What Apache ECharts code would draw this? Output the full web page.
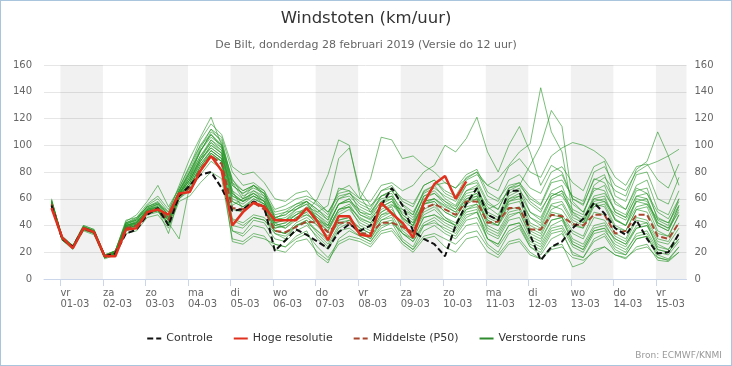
<!DOCTYPE html>
<html><head><meta charset="utf-8">
<script src="https://cdn.jsdelivr.net/npm/echarts@6/dist/echarts.min.js"></script>
<style>
html,body{margin:0;padding:0;background:#fff}
#c{position:absolute;left:0;top:0;width:732px;height:366px}
#b{position:absolute;left:0;top:0;width:732px;height:366px;box-sizing:border-box;border:1px solid #a9c5dd;pointer-events:none}
</style>
</head><body><div id="c"></div><div id="b"></div>
<script>
// ---- data ----
const titleText = 'Windstoten (km/uur)';
const subtitleText = 'De Bilt, donderdag 28 februari 2019 (Versie do 12 uur)';
const sourceText = 'Bron: ECMWF/KNMI';
const dayNames = ['vr','za','zo','ma','di','wo','do','vr','za','zo','ma','di','wo','do','vr'];
const dayDates = ['01-03','02-03','03-03','04-03','05-03','06-03','07-03','08-03','09-03','10-03','11-03','12-03','13-03','14-03','15-03'];
const yTicks = [0,20,40,60,80,100,120,140,160];
const firstHour = -5;   // 28-02 19:00 relative to 01-03 00:00
const stepHours = 6;

const controle = [55,30,24,38,35,17,19,34,37,48,53,40,62,70,78,80,68,51,
  52,58,54,21,29,37,33,28,23,35,41,36,40,55,68,55,36,30,26,17,40,56,68,
  48,44,66,66,33,14,24,28,38,45,57,49,38,33,44,30,19,20,34];
const hogeResolutie = [53,31,23,38,35,17,17,37,38,50,52,48,64,65,81,92,81,40,50,57,
  54,44,44,44,53,43,29,47,47,33,32,57,49,42,31,57,71,77,60,73];
const middelste = [56,31,24,37,35,17,20,38,40,50,52,44,62,68,82,92,86,53,52,57,
  52,36,35,39,43,42,35,42,42,34,34,42,42,39,35,53,56,52,48,58,
  58,42,43,53,53,37,37,48,47,41,40,48,48,34,36,48,48,32,30,42];

const run01 = [60,30,23,38,35,16,19,42,44,55,60,50,70,90,106,121,100,75,62,66,60,45,50,52,58,50,44,68,66,50,48,58,60,48,42,62,64,58,52,66,68,48,44,60,62,42,38,55,52,40,38,56,54,38,36,52,50,34,32,48];
const run02 = [56,30,24,39,36,18,21,38,40,50,52,46,62,72,88,98,92,58,54,60,56,40,38,44,48,44,38,52,54,45,42,50,55,52,48,65,70,72,68,75,80,70,75,85,95,101,143,110,95,50,42,58,60,45,40,60,58,42,38,50];
const run03 = [57,31,25,37,35,17,20,40,42,52,56,48,66,78,92,104,96,62,58,64,58,42,44,48,52,46,40,56,58,48,45,54,58,46,40,58,60,55,50,62,64,52,56,66,70,85,100,126,114,58,50,68,66,50,46,62,60,40,36,55];
const run04 = [55,29,23,38,34,16,19,36,38,48,50,42,60,70,84,96,90,55,60,70,66,52,55,60,62,58,50,64,66,60,58,70,72,66,70,80,85,100,95,105,121,95,80,100,114,95,70,85,80,60,55,75,72,58,52,68,64,50,45,60];
const run05 = [59,32,25,40,37,18,21,44,46,56,62,52,68,85,100,108,98,70,64,70,64,48,50,56,60,55,48,66,70,60,75,106,104,90,92,85,80,72,68,78,82,65,60,70,72,58,52,64,62,50,46,60,58,48,44,58,56,45,42,55];
const run06 = [57,31,24,38,36,17,20,40,43,52,55,46,64,76,90,102,94,64,58,62,56,38,40,46,50,60,78,104,100,62,50,60,62,45,40,58,60,52,48,60,62,42,40,52,54,38,34,50,48,36,32,50,48,34,30,46,44,30,28,42];
const run07 = [58,31,24,39,35,17,20,41,45,54,57,48,66,80,95,110,104,72,60,64,58,40,42,48,54,50,55,90,98,66,55,62,64,48,42,56,58,50,46,58,60,40,36,50,52,36,32,48,46,34,30,46,44,32,28,44,42,28,26,38];
const run08 = [56,30,23,37,35,17,20,38,40,50,52,44,60,68,80,92,88,52,50,58,54,34,32,40,44,36,30,42,44,38,34,48,50,38,32,52,56,46,42,56,60,44,40,58,62,46,42,60,64,52,48,70,76,66,62,82,88,110,92,70];
const run09 = [57,31,24,38,36,17,20,39,41,51,53,45,63,74,88,100,94,60,56,62,58,42,44,50,52,48,42,56,58,52,48,62,66,55,48,66,70,60,55,70,72,56,52,68,70,60,55,72,74,62,58,80,84,70,66,80,85,88,92,97];
const run10 = [55,29,22,36,33,15,18,34,36,46,48,38,58,62,72,80,75,30,28,34,32,22,20,28,30,20,14,26,30,28,24,34,36,26,20,30,32,24,20,30,32,20,16,26,28,18,15,22,24,16,14,20,24,18,16,22,24,16,14,20];
const run11 = [58,30,24,38,35,16,19,40,42,52,54,40,64,76,96,108,100,66,52,60,56,36,34,42,46,40,32,48,52,42,38,50,54,36,30,46,48,44,40,54,56,36,32,46,50,32,28,44,46,30,26,40,42,28,24,38,40,24,22,34];
const run12 = [56,31,24,39,36,17,20,41,44,53,56,46,65,80,98,112,106,80,70,72,66,46,44,52,56,44,36,52,54,46,42,54,58,50,44,62,66,58,54,66,70,50,46,62,66,56,50,66,70,48,44,62,64,52,48,66,68,44,40,60];
const run13 = [57,30,23,37,34,16,19,38,40,49,51,42,62,70,82,94,88,36,34,44,42,30,28,36,40,32,24,38,42,36,30,44,46,30,24,40,42,38,34,46,50,30,26,40,42,26,22,36,38,24,20,34,36,26,22,32,34,20,18,28];
const run14 = [58,32,25,40,37,18,21,43,48,58,70,54,68,84,104,116,108,84,78,80,72,60,58,64,66,56,50,62,64,58,54,66,68,60,56,70,74,66,62,76,80,62,58,74,78,68,64,80,84,72,66,84,88,62,58,78,80,60,56,76];
const run15 = [57,31,24,38,35,17,20,40,42,52,54,44,63,74,90,98,92,58,54,58,54,38,40,46,48,42,36,50,54,40,36,48,52,40,34,50,54,46,40,52,56,44,40,56,58,40,36,52,56,42,38,54,56,40,36,52,54,36,32,48];
const run16 = [56,30,23,37,35,16,19,39,41,50,52,34,62,72,86,96,90,44,40,46,44,34,30,40,42,36,28,44,46,34,30,42,44,34,28,42,46,40,36,48,50,34,30,44,46,30,26,40,44,28,24,38,40,30,26,38,40,26,22,34];
const run17 = [59,31,25,39,36,17,21,42,46,54,58,48,66,82,100,112,102,74,66,70,62,44,46,52,56,48,40,56,60,50,46,58,62,52,46,60,64,56,52,64,66,54,48,64,68,50,44,62,66,56,50,66,70,50,46,62,64,46,42,58];
const run18 = [57,30,24,38,35,17,20,40,43,51,54,46,64,74,90,104,98,66,60,64,60,42,38,46,50,40,30,44,46,38,34,46,50,40,34,48,52,44,40,52,54,38,34,48,50,34,30,44,46,26,22,36,38,30,26,40,42,22,20,30];
const run19 = [56,31,24,38,36,17,20,38,40,50,52,44,62,70,84,94,88,40,38,46,44,36,34,40,44,34,26,40,44,36,32,44,48,34,30,46,48,42,38,50,52,30,24,36,40,24,18,30,34,20,16,28,32,20,18,30,32,18,15,24];
const run20 = [58,31,24,39,36,17,20,41,44,53,56,48,64,78,96,106,100,70,64,68,64,46,48,54,58,52,44,60,62,54,50,62,66,56,50,64,68,62,58,70,74,58,52,68,72,62,56,74,78,60,56,74,78,56,52,70,74,52,48,66];
const run21 = [56,30,23,37,34,16,19,37,39,49,51,40,60,66,78,88,82,28,26,32,30,26,24,30,34,24,16,28,32,30,26,36,38,28,22,32,34,30,26,34,36,24,18,28,30,20,15,24,26,9,12,22,24,18,15,24,26,14,13,20];
const run22 = [57,31,24,38,35,17,20,40,42,51,54,44,63,74,88,100,94,62,58,62,58,40,42,48,52,46,38,52,56,44,40,52,56,46,40,56,58,50,46,58,62,48,44,58,60,46,40,56,58,44,40,56,58,44,40,54,56,40,36,52];
const run23 = [58,31,24,39,36,17,21,42,45,54,57,50,66,80,96,108,100,72,66,70,64,50,52,56,58,44,40,56,60,48,44,56,60,44,38,56,60,54,50,60,64,46,42,60,64,50,46,62,66,46,42,60,62,44,40,58,60,42,38,54];
const run24 = [55,29,23,37,34,16,19,37,40,49,51,42,30,70,84,94,88,45,42,48,46,36,34,40,42,30,22,36,38,32,28,38,42,34,28,40,44,36,32,44,46,30,26,40,42,28,24,38,40,26,22,36,38,24,20,34,36,22,20,30];
const run25 = [57,31,24,38,35,17,20,39,42,51,53,45,64,76,92,102,96,64,58,66,62,46,48,54,58,52,46,60,64,56,52,66,70,58,54,70,74,64,60,74,78,70,66,84,90,80,76,92,98,102,100,96,90,76,70,84,86,74,68,86];
const run26 = [56,30,24,37,35,17,20,39,41,50,52,42,62,72,86,96,90,36,32,40,38,26,24,32,36,18,12,30,36,32,28,40,42,28,22,36,40,34,30,40,42,26,20,34,38,24,20,34,36,18,16,30,34,22,18,30,32,16,14,24];
const runs = [run01,run02,run03,run04,run05,run06,run07,run08,run09,run10,run11,run12,run13,
  run14,run15,run16,run17,run18,run19,run20,run21,run22,run23,run24,run25,run26];

// ---- chart ----
const FONT = 'DejaVu Sans';
const xMin = -9.25, xMax = 353.25;
const toPairs = arr => arr.map((v, i) => [firstHour + i * stepHours, v]);
const dayStarts = dayNames.map((_, i) => i * 24);
const bands = dayStarts.filter((_, i) => i % 2 === 0)
  .map(h => [{ xAxis: h }, { xAxis: Math.min(h + 24, xMax) }]);

const GREEN = '#2e9a2e';
const series = [];
series.push({
  name: 'bands', type: 'line', data: [], silent: true, z: 0,
  markArea: { silent: true, itemStyle: { color: 'rgba(0,0,0,0.055)' }, data: bands }
});
runs.forEach(r => series.push({
  name: 'Verstoorde runs', type: 'line', data: toPairs(r), symbol: 'none', silent: true, z: 2,
  lineStyle: { width: 1, color: 'rgba(40,150,40,0.62)' }, itemStyle: { color: GREEN }
}));
series.push({
  name: 'Middelste (P50)', type: 'line', data: toPairs(middelste), symbol: 'none', silent: true, z: 3,
  lineStyle: { width: 2, type: [6, 3], color: '#a8472e' }, itemStyle: { color: '#c0392b' }
});
series.push({
  name: 'Controle', type: 'line', data: toPairs(controle), symbol: 'none', silent: true, z: 4,
  lineStyle: { width: 2, type: [6, 3], color: '#111' }, itemStyle: { color: '#111' }
});
series.push({
  name: 'Hoge resolutie', type: 'line', data: toPairs(hogeResolutie), symbol: 'none', silent: true, z: 5,
  lineStyle: { width: 2.5, color: '#e0301e' }, itemStyle: { color: '#e0301e' }
});

const chart = echarts.init(document.getElementById('c'), null, { renderer: 'canvas' });
chart.setOption({
  animation: false,
  backgroundColor: '#fff',
  textStyle: { fontFamily: FONT },
  title: [
    { text: titleText, left: 'center', top: 4, textStyle: { fontFamily: FONT, fontSize: 16.5, fontWeight: 'normal', color: '#333', lineHeight: 20 } },
    { text: subtitleText, left: 'center', top: 33, textStyle: { fontFamily: FONT, fontSize: 11, fontWeight: 'normal', color: '#666', lineHeight: 14 } }
  ],
  legend: {
    data: ['Controle', 'Hoge resolutie', 'Middelste (P50)',
      { name: 'Verstoorde runs', lineStyle: { color: '#2e8b2e', width: 2 } }],
    left: 'center', top: 328, itemWidth: 14, itemHeight: 12, itemGap: 20,
    itemStyle: { opacity: 0 },
    textStyle: { fontFamily: FONT, fontSize: 11, color: '#333' }
  },
  grid: { left: 44, right: 45.5, top: 65, bottom: 87, containLabel: false },
  xAxis: {
    type: 'value', min: xMin, max: xMax,
    splitLine: { show: false },
    axisLine: { lineStyle: { color: '#ccd6eb' } },
    axisTick: { customValues: dayStarts, length: 7, lineStyle: { color: '#ccd6eb' } },
    axisLabel: {
      customValues: dayStarts, align: 'left', margin: 9, color: '#666',
      fontFamily: FONT, fontSize: 10, lineHeight: 11,
      formatter: v => { const i = Math.round(v / 24); return dayNames[i] + '\n' + dayDates[i]; }
    }
  },
  yAxis: [
    { type: 'value', min: yTicks[0], max: yTicks[yTicks.length - 1], interval: yTicks[1] - yTicks[0],
      splitLine: { lineStyle: { color: '#e6e6e6' } }, axisLine: { show: false }, axisTick: { show: false },
      axisLabel: { color: '#666', fontFamily: FONT, fontSize: 10, margin: 12 } },
    { type: 'value', position: 'right', min: yTicks[0], max: yTicks[yTicks.length - 1], interval: yTicks[1] - yTicks[0],
      splitLine: { show: false }, axisLine: { show: false }, axisTick: { show: false },
      axisLabel: { color: '#666', fontFamily: FONT, fontSize: 10, margin: 8 } }
  ],
  graphic: [{
    type: 'text', right: 10, top: 351,
    style: { text: sourceText, fill: '#999', font: '9px "DejaVu Sans"' }
  }],
  series: series
});
</script>
</body></html>
